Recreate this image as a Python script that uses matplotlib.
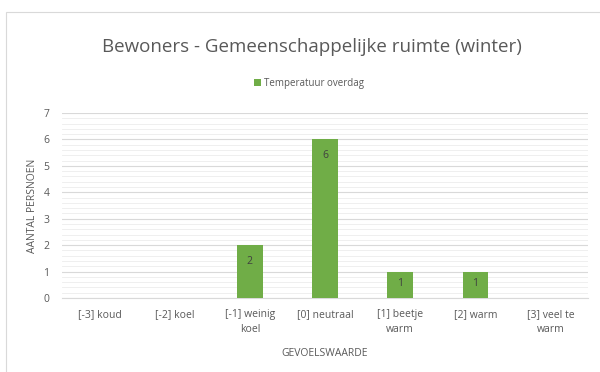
import matplotlib.pyplot as plt
import numpy as np

# gevoelswaarde categories and counts
categories = ['[-3] koud', '[-2] koel', '[-1] weinig\nkoel', '[0] neutraal',
              '[1] beetje\nwarm', '[2] warm', '[3] veel te\nwarm']
counts = [0, 0, 2, 6, 1, 1, 0]

green = '#70AD47'
grey = '#595959'
plt.rcParams['font.family'] = ['Open Sans', 'DejaVu Sans']

fig = plt.figure(figsize=(6, 3.72), dpi=100)
# light chart border
fig.patches.append(plt.Rectangle((0.01, -0.01), 0.995, 0.978, transform=fig.transFigure,
                                 fill=False, edgecolor='#d9d9d9', linewidth=0.8))
ax = fig.add_axes([62/600, 74/372, 526/600, 185/372])

x = np.arange(len(categories))
bars = ax.bar(x, counts, width=0.34, color=green, zorder=3, label='Temperatuur overdag')

# value labels inside the bars (only non-zero)
for b, v in zip(bars, counts):
    if v > 0:
        ax.text(b.get_x() + b.get_width()/2, max(v - 0.62, v*0.55), str(v),
                ha='center', va='center', fontsize=7.5, color='#404040', zorder=4)

ax.set_xlim(-0.5, len(categories) - 0.5)
ax.set_ylim(0, 7)
ax.set_yticks(range(8))
ax.set_yticks(np.arange(0, 7, 0.2), minor=True)
ax.set_xticks(x)
ax.set_xticklabels(categories, fontsize=7.5, color=grey, linespacing=1.5)
ax.tick_params(axis='y', labelsize=7.5, labelcolor=grey, length=0, pad=9, which='both')
ax.tick_params(axis='x', length=0, pad=8)

ax.grid(axis='y', which='major', color='#d9d9d9', linewidth=0.8, zorder=0)
ax.grid(axis='y', which='minor', color='#ececec', linewidth=0.6, zorder=0)
for s in ['top', 'right', 'left']:
    ax.spines[s].set_visible(False)
ax.spines['bottom'].set_color('#d9d9d9')

ax.set_ylabel('AANTAL PERSNOEN', fontsize=7.5, color=grey, labelpad=4)
ax.set_xlabel('GEVOELSWAARDE', fontsize=7.5, color=grey, labelpad=9)

fig.text(0.52, 0.875, 'Bewoners - Gemeenschappelijke ruimte (winter)', ha='center',
         va='center', fontsize=13.5, color=grey)
fig.legend(loc='center', bbox_to_anchor=(0.515, 0.775), frameon=False, fontsize=7,
           handlelength=0.7, handleheight=0.7, handletextpad=0.3, labelcolor=grey)

fig.savefig('out.png', dpi=100)
